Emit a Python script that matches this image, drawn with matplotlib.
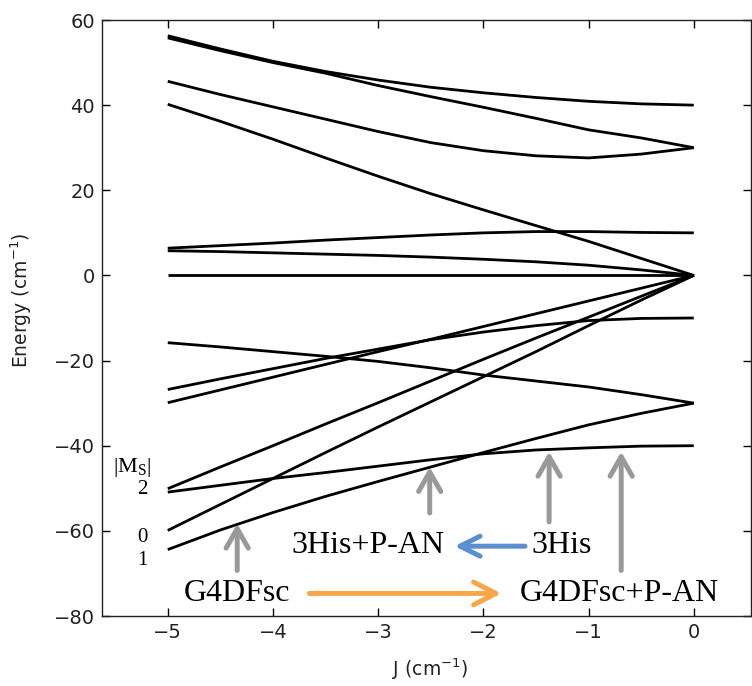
import matplotlib
matplotlib.use("Agg")
import matplotlib.pyplot as plt

# Exchange coupling J (cm^-1) at which each level energy is tabulated
J_GRID = [-5.0, -4.5, -4.0, -3.5, -3.0, -2.5, -2.0, -1.5, -1.0, -0.5, 0.0]

# Energy levels (cm^-1) vs J
LEVEL_A = [56.3, 53.2, 50.3, 47.9, 45.9, 44.2, 42.9, 41.8, 40.9, 40.3, 40.0]
LEVEL_B = [55.8, 52.8, 50.0, 47.5, 44.6, 42.0, 39.5, 36.9, 34.2, 32.3, 30.0]
LEVEL_C = [45.6, 42.5, 39.6, 36.7, 33.8, 31.2, 29.3, 28.1, 27.6, 28.5, 30.0]
LEVEL_D = [40.2, 36.2, 32.0, 27.6, 23.3, 19.2, 15.4, 11.7, 8.0, 4.0, 0.0]
LEVEL_E = [6.4, 7.0, 7.6, 8.3, 8.9, 9.5, 10.0, 10.3, 10.3, 10.1, 10.0]
LEVEL_F = [5.8, 5.6, 5.3, 5.0, 4.7, 4.3, 3.8, 3.2, 2.4, 1.3, 0.0]
LEVEL_G = [0.0, 0.0, 0.0, 0.0, 0.0, 0.0, 0.0, 0.0, 0.0, 0.0, 0.0]
LEVEL_H = [-15.8, -16.8, -17.9, -19.0, -20.2, -21.7, -23.4, -24.8, -26.2, -28.0, -30.0]
LEVEL_I = [-26.8, -24.3, -21.9, -19.5, -17.3, -15.1, -13.3, -11.8, -10.6, -10.1, -10.0]
LEVEL_J = [-29.9, -26.9, -23.9, -20.9, -17.9, -15.0, -12.0, -9.0, -6.0, -3.0, 0.0]
LEVEL_K = [-50.1, -45.0, -40.0, -34.9, -29.9, -24.8, -19.7, -14.7, -9.8, -4.9, 0.0]
LEVEL_L = [-50.9, -49.3, -47.7, -46.3, -44.8, -43.3, -41.9, -41.0, -40.5, -40.1, -40.0]
LEVEL_M = [-59.9, -53.8, -47.7, -41.6, -35.6, -29.7, -23.8, -17.9, -11.8, -5.8, 0.0]
LEVEL_N = [-64.4, -59.8, -55.7, -51.9, -48.4, -45.0, -41.6, -38.3, -35.1, -32.4, -30.0]

LEVELS = [LEVEL_A, LEVEL_B, LEVEL_C, LEVEL_D, LEVEL_E, LEVEL_F, LEVEL_G,
          LEVEL_H, LEVEL_I, LEVEL_J, LEVEL_K, LEVEL_L, LEVEL_M, LEVEL_N]

# |Ms| labels at the left end of the lowest levels
MS_LABELS = ["2", "0", "1"]
MS_ENERGY = [-50.4, -61.6, -66.9]

# Systems: J positions marked by upward arrows (tail energy, tip energy)
SYSTEM_J = [-4.34, -2.51, -1.375, -0.69]
SYSTEM_TAIL = [-69.3, -55.8, -57.9, -69.3]
SYSTEM_TIP = [-58.3, -45.0, -41.4, -41.4]

# System names: (text, J centre, energy baseline)
SYSTEM_NAMES = ["G4DFsc", "3His+P-AN", "3His", "G4DFsc+P-AN"]
NAME_J = [-4.34, -3.10, -1.26, -0.71]
NAME_E = [-76.5, -65.3, -65.3, -76.5]

X_TICKS = [-5, -4, -3, -2, -1, 0]
Y_TICKS = [-80, -60, -40, -20, 0, 20, 40, 60]

SERIF = ["Liberation Serif", "DejaVu Serif"]
GRAY = "#999999"
BLUE = "#5b8fcf"
ORANGE = "#f7a649"

fig = plt.figure(figsize=(7.52, 6.86), dpi=100)
ax = fig.add_axes([102 / 752, 70 / 686, 649 / 752, 596 / 686])

for level in LEVELS:
    ax.plot(J_GRID, level, color="black", lw=2.0, solid_capstyle="butt",
            solid_joinstyle="round")

ax.set_xlim(-5.625, 0.544)
ax.set_ylim(-80, 60)
ax.set_xticks(X_TICKS)
ax.set_yticks(Y_TICKS)
ax.tick_params(direction="in", top=True, right=True, length=6, width=1,
               labelsize=14, labelcolor="#222222")
ax.tick_params(axis="y", pad=5)
ax.tick_params(axis="x", pad=5)
for sp in ax.spines.values():
    sp.set_linewidth(1.0)
    sp.set_color("#222222")

ax.set_xlabel(r"J (cm$^{-1}$)", fontsize=13.5, color="#222222")
ax.set_ylabel(r"Energy (cm$^{-1}$)", fontsize=13.5, color="#222222")
ax.xaxis.set_label_coords(0.505, -0.068)
ax.yaxis.set_label_coords(-0.105, 0.53)

# |Ms| header and labels
ax.text(-5.335, -45.2, r"$\mathregular{|M_S|}$", fontsize=16, family=SERIF,
        ha="center", va="center")
for lab, e in zip(MS_LABELS, MS_ENERGY):
    ax.text(-5.244, e, lab, fontsize=15, family=SERIF, ha="center", va="center")

# Upward gray arrows at each system's J
for j, tail, tip in zip(SYSTEM_J, SYSTEM_TAIL, SYSTEM_TIP):
    ax.annotate("", xy=(j, tip), xytext=(j, tail),
                arrowprops=dict(arrowstyle="->,head_length=0.7,head_width=0.4",
                                lw=3.6, color=GRAY, mutation_scale=20,
                                shrinkA=0, shrinkB=0))

# System names
for name, j, e in zip(SYSTEM_NAMES, NAME_J, NAME_E):
    ax.text(j, e, name, fontsize=23, family=SERIF, ha="center", va="baseline",
            clip_on=False)

# Blue arrow: 3His -> 3His+P-AN
ax.annotate("", xy=(-2.274, -63.6), xytext=(-1.604, -63.6),
            arrowprops=dict(arrowstyle="->,head_length=0.72,head_width=0.36",
                            lw=3.6, color=BLUE, mutation_scale=20,
                            shrinkA=0, shrinkB=0))
# Orange arrow: G4DFsc -> G4DFsc+P-AN
ax.annotate("", xy=(-1.829, -74.7), xytext=(-3.653, -74.7),
            arrowprops=dict(arrowstyle="->,head_length=0.8,head_width=0.41",
                            lw=3.6, color=ORANGE, mutation_scale=20,
                            shrinkA=0, shrinkB=0))

fig.savefig("out.png", dpi=100)
